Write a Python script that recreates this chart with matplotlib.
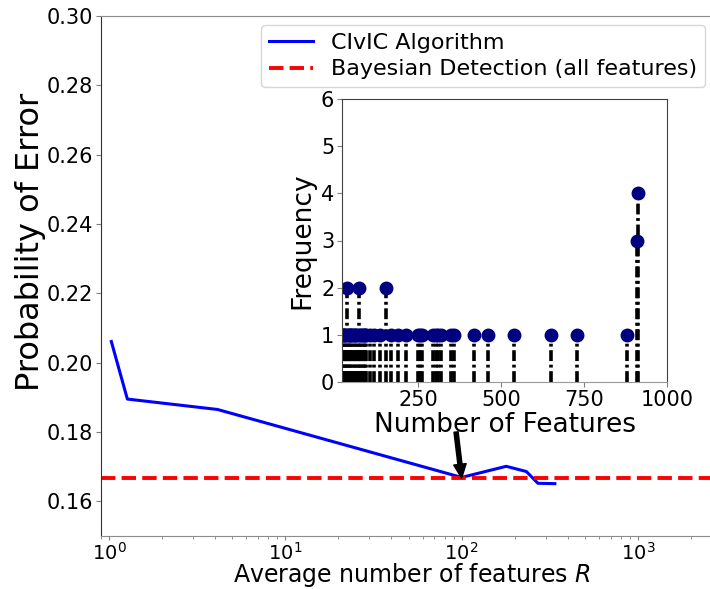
import matplotlib
matplotlib.use("Agg")
import matplotlib.pyplot as plt
import numpy as np

# Main curve: CIvIC algorithm
civic_R = [1.03, 1.27, 4.12, 100, 179, 233, 271, 338]
civic_err = [0.2061, 0.1895, 0.1865, 0.1669, 0.1701, 0.1686, 0.1652, 0.1651]
bayes_err = 0.1667

# Inset: histogram of number of features (stem plot)
n_features = [22, 25, 28, 31, 34, 37, 40, 43, 46, 49, 52, 56, 60, 64, 68, 71,
              75, 79, 83, 87, 91, 94, 104, 117, 134, 154, 169, 190, 215, 250,
              256, 262, 295, 303, 310, 318, 350, 358, 420, 460, 540, 650, 730,
              880, 910, 914]
frequency = [1, 1, 1, 1, 1, 2, 1, 1, 1, 1, 1, 1, 1, 1, 1, 2,
             1, 1, 1, 1, 1, 1, 1, 1, 1, 2, 1, 1, 1, 1,
             1, 1, 1, 1, 1, 1, 1, 1, 1, 1, 1, 1, 1,
             1, 3, 4]

W, H = 710, 589
fig = plt.figure(figsize=(W / 100, H / 100), dpi=100)
ax = fig.add_axes([101 / W, (H - 536) / H, 621 / W, (536 - 16) / H])
ax.plot(civic_R, civic_err, color='blue', lw=2.2, label='CIvIC Algorithm')
ax.axhline(bayes_err, color='red', ls='--', lw=2.8, label='Bayesian Detection (all features)')
ax.set_xscale('log')
ax.set_xlim(0.9, 3000)
ax.set_ylim(0.15, 0.30)
ax.set_yticks([0.16, 0.18, 0.20, 0.22, 0.24, 0.26, 0.28, 0.30])
ax.set_yticklabels(['0.16', '0.18', '0.20', '0.22', '0.24', '0.26', '0.28', '0.30'])
ax.tick_params(axis='y', labelsize=15, color='0.5', pad=2)
ax.tick_params(axis='x', labelsize=14, color='0.5', pad=1, length=3)
ax.tick_params(which='minor', color='0.5', length=2)
ax.set_xlabel('Average number of features $R$', fontsize=17, labelpad=-1.5)
ax.set_ylabel('Probability of Error', fontsize=23)
ax.yaxis.set_label_coords(-0.089, 0.565)
for s in ['left', 'right']:
    ax.spines[s].set_color('0.2')
for s in ['top', 'bottom']:
    ax.spines[s].set_color('0.55')
leg = ax.legend(loc='upper right', bbox_to_anchor=(705 / W, 1 - 25 / H),
                bbox_transform=fig.transFigure, fontsize=16, handlelength=2.0,
                borderaxespad=0, borderpad=0.35, labelspacing=0.3)
ax.annotate('', xy=(100, bayes_err), xytext=(93, 0.1800),
            arrowprops=dict(facecolor='black', edgecolor='black', width=3.0,
                            headwidth=9, headlength=10, shrink=0.0))

ins = fig.add_axes([342 / W, (H - 382) / H, 325 / W, 283 / H])
markerline, stemlines, baseline = ins.stem(n_features, frequency, linefmt='k-.',
                                           markerfmt='o', basefmt=' ')
markerline.set_color('navy')
markerline.set_markersize(9)
stemlines.set_linewidth(2.6)
stemlines.set_linestyle((0, (3, 1, 0.8, 1)))
ins.set_xlim(21, 1000)
ins.set_ylim(0, 6)
ins.set_xticks([250, 500, 750, 1000])
ins.set_yticks([0, 1, 2, 3, 4, 5, 6])
ins.tick_params(labelsize=15, color='0.5', pad=2)
ins.set_xlabel('Number of Features', fontsize=19, labelpad=2)
ins.set_ylabel('Frequency', fontsize=19, labelpad=4)
for s in ['left', 'right', 'top']:
    ins.spines[s].set_color('0.25')
ins.spines['bottom'].set_color('0.6')

fig.savefig('out.png', dpi=100)
